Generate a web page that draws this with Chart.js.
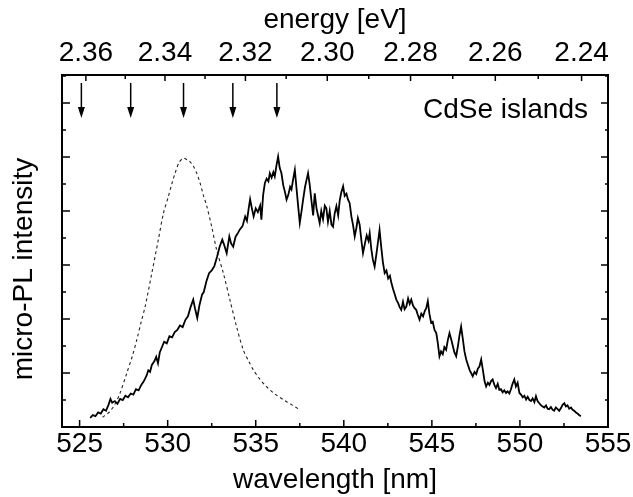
<!DOCTYPE html>
<html>
<head>
<meta charset="utf-8">
<script src="https://cdn.jsdelivr.net/npm/chart.js@4.4.1/dist/chart.umd.min.js"></script>
<style>
  html, body { margin: 0; padding: 0; background: #fff; }
  #wrap { width: 633px; height: 497px; }
</style>
</head>
<body>
<div id="wrap"><canvas id="plChart"></canvas></div>
<script>
// wavelength axis (nm) and energy axis (eV)
const xMin = 524, xMax = 555;
const wlTicks = [525, 527.5, 530, 532.5, 535, 537.5, 540, 542.5, 545, 547.5, 550, 552.5, 555];
const energyTicks = [2.36, 2.35, 2.34, 2.33, 2.32, 2.31, 2.30, 2.29, 2.28, 2.27, 2.26, 2.25, 2.24];
const yTicks = [0, 0.5, 1, 1.5, 2, 2.5, 3, 3.5, 4, 4.5, 5, 5.5, 6, 6.5];
const yMax = 6.52;

// arrows marking the peaks (nm)
const arrowWl = [525.1, 527.9, 530.9, 533.7, 536.2];

// micro-PL spectrum (solid)
const solidWl = [
  525.6, 525.75, 525.9, 526.05, 526.2, 526.35, 526.5, 526.65, 526.75, 526.85,
  527.0, 527.15, 527.3, 527.45, 527.6, 527.75, 527.9, 528.05, 528.2, 528.35,
  528.5, 528.65, 528.8, 528.9, 529.0, 529.1, 529.25, 529.35, 529.45, 529.55,
  529.7, 529.8, 529.95, 530.1, 530.25, 530.4, 530.55, 530.7, 530.85, 531.0,
  531.15, 531.3, 531.45, 531.55, 531.68, 531.8, 531.95, 532.05, 532.2, 532.35,
  532.5, 532.65, 532.8, 532.95, 533.1, 533.2, 533.35, 533.5, 533.6, 533.72,
  533.85, 534.0, 534.1, 534.25, 534.4, 534.5, 534.6, 534.68, 534.78, 534.88,
  535.0, 535.12, 535.25, 535.32, 535.42, 535.52, 535.62, 535.72, 535.8, 535.9,
  536.0, 536.08, 536.18, 536.27, 536.36, 536.46, 536.56, 536.66, 536.75, 536.85,
  536.95, 537.03, 537.12, 537.22, 537.32, 537.42, 537.5, 537.6, 537.69, 537.8,
  537.9, 537.97, 538.06, 538.16, 538.26, 538.35, 538.45, 538.55, 538.63, 538.72,
  538.82, 538.92, 539.01, 539.1, 539.2, 539.3, 539.39, 539.48, 539.58, 539.68,
  539.77, 539.86, 539.96, 540.05, 540.15, 540.24, 540.33, 540.43, 540.52, 540.62,
  540.72, 540.8, 540.9, 541.0, 541.09, 541.2, 541.3, 541.4, 541.47, 541.56,
  541.65, 541.75, 541.85, 541.95, 542.03, 542.12, 542.22, 542.32, 542.42, 542.52,
  542.62, 542.7, 542.8, 542.9, 542.98, 543.08, 543.17, 543.26, 543.36, 543.45,
  543.55, 543.65, 543.74, 543.83, 543.93, 544.02, 544.11, 544.2, 544.3, 544.4,
  544.5, 544.6, 544.68, 544.77, 544.86, 544.96, 545.05, 545.15, 545.25, 545.34,
  545.43, 545.52, 545.62, 545.71, 545.81, 545.9, 546.0, 546.1, 546.19, 546.28,
  546.38, 546.48, 546.57, 546.66, 546.75, 546.85, 546.95, 547.05, 547.15, 547.23,
  547.32, 547.42, 547.52, 547.61, 547.7, 547.8, 547.9, 547.99, 548.08, 548.18,
  548.27, 548.36, 548.45, 548.55, 548.64, 548.74, 548.83, 548.92, 549.02, 549.11,
  549.21, 549.3, 549.4, 549.49, 549.58, 549.68, 549.77, 549.87, 549.97, 550.06,
  550.16, 550.25, 550.35, 550.44, 550.54, 550.63, 550.72, 550.82, 550.91, 551.0,
  551.1, 551.2, 551.29, 551.38, 551.48, 551.57, 551.66, 551.76, 551.85, 551.94,
  552.04, 552.14, 552.23, 552.33, 552.42, 552.52, 552.61, 552.7, 552.8, 552.9,
  552.99, 553.08, 553.18, 553.27, 553.36, 553.46
];
const solidI = [
  0.17, 0.22, 0.20, 0.27, 0.25, 0.33, 0.30, 0.42, 0.52, 0.45,
  0.48, 0.43, 0.52, 0.50, 0.58, 0.55, 0.62, 0.60, 0.70, 0.68,
  0.78, 0.85, 0.95, 1.05, 1.02, 1.15, 1.22, 1.30, 1.18, 1.38,
  1.50, 1.58, 1.55, 1.68, 1.66, 1.76, 1.80, 1.88, 1.85, 1.98,
  2.05, 2.22, 2.36, 2.20, 2.02, 2.25, 2.45, 2.50, 2.70, 2.85,
  2.90, 2.98, 3.15, 3.34, 3.47, 3.38, 3.22, 3.53, 3.40, 3.34,
  3.52, 3.60, 3.66, 3.72, 3.90, 3.82, 4.05, 4.22, 4.05, 3.90,
  4.05, 3.98, 4.10, 3.84, 4.30, 4.52, 4.60, 4.55, 4.70, 4.62,
  4.72, 4.64, 4.85, 5.01, 4.80, 4.70, 4.48, 4.35, 4.21, 4.30,
  4.45, 4.40, 4.58, 4.76, 4.40, 4.05, 3.78, 4.00, 4.21, 4.45,
  4.60, 4.70, 4.50, 4.20, 3.92, 4.33, 4.05, 3.90, 3.78, 4.00,
  3.85, 4.10, 4.05, 3.80, 4.00, 3.75, 3.71, 3.95, 4.09, 3.92,
  4.20, 4.35, 4.46, 4.28, 4.32, 4.21, 4.15, 3.90, 3.75, 3.53,
  3.70, 3.87, 3.75, 3.45, 3.22, 3.40, 3.55, 3.45, 3.59, 3.30,
  3.10, 2.97, 3.20, 3.45, 3.65, 3.35, 3.05, 2.85, 2.90, 2.75,
  2.80, 2.67, 2.55, 2.45, 2.36, 2.30, 2.22, 2.17, 2.32, 2.18,
  2.23, 2.38, 2.28, 2.36, 2.25, 2.20, 2.17, 2.08, 1.99, 2.10,
  2.05, 2.15, 2.20, 2.33, 2.10, 1.93, 1.95, 1.80, 1.74, 1.55,
  1.31, 1.40, 1.35, 1.48, 1.43, 1.60, 1.74, 1.62, 1.50, 1.38,
  1.31, 1.50, 1.70, 1.86, 1.65, 1.40, 1.25, 1.15, 1.05, 1.00,
  0.94, 1.02, 0.98, 1.08, 1.12, 1.25, 1.05, 0.85, 0.75, 0.82,
  0.78, 0.85, 0.88, 0.78, 0.72, 0.80, 0.69, 0.70, 0.64, 0.68,
  0.63, 0.66, 0.62, 0.70, 0.80, 0.88, 0.75, 0.82, 0.63, 0.60,
  0.55, 0.58, 0.51, 0.56, 0.50, 0.48, 0.53, 0.46, 0.57, 0.48,
  0.44, 0.40, 0.38, 0.36, 0.40, 0.34, 0.33, 0.37, 0.32, 0.30,
  0.36, 0.33, 0.30, 0.35, 0.41, 0.44, 0.38, 0.40, 0.34, 0.36,
  0.32, 0.30, 0.27, 0.25, 0.22, 0.20
];

// reference spectrum (dotted)
const dashWl = [
  526.3, 526.7, 527.0, 527.3, 527.68, 528.0, 528.25, 528.5, 528.72, 529.1,
  529.47, 529.76, 530.04, 530.25, 530.42, 530.65, 530.9, 531.1, 531.25, 531.46,
  531.65, 531.84, 532.02, 532.22, 532.5, 532.78, 533.16, 533.53, 533.91, 534.29,
  534.6, 534.86, 535.2, 535.6, 536.05, 536.55, 537.0, 537.5
];
const dashI = [
  0.18, 0.28, 0.42, 0.63, 1.00, 1.32, 1.62, 1.95, 2.23, 2.85,
  3.47, 3.96, 4.27, 4.52, 4.70, 4.90, 4.98, 4.95, 4.92, 4.83,
  4.70, 4.52, 4.30, 4.09, 3.71, 3.28, 2.85, 2.36, 1.86, 1.43,
  1.22, 1.06, 0.90, 0.75, 0.62, 0.51, 0.42, 0.32
];

const hc = 1239.84; // eV*nm
const font = { family: 'Liberation Sans, Arial, sans-serif', size: 28 };

// frame, inward ticks, arrows and labels
const framePlugin = {
    id: 'frame',
    afterDraw(chart) {
        const { ctx, chartArea: a, scales } = chart;
        ctx.save();
        ctx.strokeStyle = '#000';
        ctx.lineWidth = 1.5;
        ctx.beginPath();
        scales.x.ticks.forEach(t => {
            const px = scales.x.getPixelForValue(t.value);
            const len = t.value % 5 === 0 ? 7 : 4;
            ctx.moveTo(px, a.bottom); ctx.lineTo(px, a.bottom - len);
        });
        scales.xTop.ticks.forEach((t, i) => {
            const px = scales.xTop.getPixelForValue(t.value);
            const len = i % 2 === 0 ? 6 : 4;
            ctx.moveTo(px, a.top); ctx.lineTo(px, a.top + len);
        });
        scales.y.ticks.forEach(t => {
            const py = scales.y.getPixelForValue(t.value);
            const len = t.value % 1 === 0 ? 8 : 4;
            ctx.moveTo(a.left, py); ctx.lineTo(a.left + len, py);
            ctx.moveTo(a.right, py); ctx.lineTo(a.right - len + 1, py);
        });
        ctx.stroke();

        ctx.lineWidth = 2;
        ctx.strokeRect(a.left, a.top, a.right - a.left, a.bottom - a.top);

        // arrows
        ctx.lineWidth = 1.5;
        ctx.fillStyle = '#000';
        arrowWl.forEach(w => {
            const px = scales.x.getPixelForValue(w);
            const y0 = a.top + 8, y1 = a.top + 43;
            ctx.beginPath();
            ctx.moveTo(px, y0); ctx.lineTo(px, y1 - 8);
            ctx.stroke();
            ctx.beginPath();
            ctx.moveTo(px - 3.5, y1 - 11);
            ctx.lineTo(px + 3.5, y1 - 11);
            ctx.lineTo(px, y1);
            ctx.closePath();
            ctx.fill();
        });

        ctx.font = `${font.size}px ${font.family}`;
        ctx.textAlign = 'right';
        ctx.textBaseline = 'middle';
        ctx.fillText('CdSe islands', a.right - 20, a.top + 35);

        ctx.save();
        ctx.translate(24, 269);
        ctx.rotate(-Math.PI / 2);
        ctx.textAlign = 'center';
        ctx.fillText('micro-PL intensity', 0, 0);
        ctx.restore();
        ctx.restore();
    }
};

document.addEventListener('DOMContentLoaded', () => {
    const ctx = document.getElementById('plChart').getContext('2d');
    const plChart = new Chart(ctx, {
        type: 'line',
        data: {
            datasets: [{
                label: 'micro-PL',
                data: solidWl.map((w, i) => ({ x: w, y: solidI[i] })),
                borderColor: '#000',
                borderWidth: 1.8,
                pointRadius: 0,
                tension: 0
            }, {
                label: 'reference',
                data: dashWl.map((w, i) => ({ x: w, y: dashI[i] })),
                borderColor: '#222',
                borderWidth: 1.1,
                borderDash: [3, 3],
                pointRadius: 0,
                tension: 0.3
            }]
        },
        options: {
            responsive: true,
            maintainAspectRatio: false,
            animation: false,
            layout: { padding: { left: 0, right: 25, top: 0, bottom: 0 } },
            plugins: { legend: { display: false }, tooltip: { enabled: false } },
            scales: {
                x: {
                    type: 'linear',
                    position: 'bottom',
                    min: xMin,
                    max: xMax,
                    grid: { display: false, drawTicks: false },
                    border: { display: false },
                    afterBuildTicks: s => { s.ticks = wlTicks.map(v => ({ value: v })); },
                    afterFit: s => { s.height = 70; },
                    ticks: {
                        autoSkip: false,
                        maxRotation: 0,
                        padding: 0,
                        color: '#000',
                        font: font,
                        callback: v => (v % 5 === 0 ? String(v) : '')
                    },
                    title: {
                        display: true,
                        text: 'wavelength [nm]',
                        color: '#000',
                        font: font,
                        padding: { top: 8, bottom: 0 }
                    }
                },
                xTop: {
                    type: 'linear',
                    position: 'top',
                    min: xMin,
                    max: xMax,
                    grid: { display: false, drawTicks: false },
                    border: { display: false },
                    afterBuildTicks: s => { s.ticks = energyTicks.map(e => ({ value: hc / e })); },
                    afterFit: s => { s.height = 75; },
                    ticks: {
                        autoSkip: false,
                        maxRotation: 0,
                        padding: 5,
                        color: '#000',
                        font: font,
                        callback: (v, i) => (i % 2 === 0 ? energyTicks[i].toFixed(2) : '')
                    },
                    title: {
                        display: true,
                        text: 'energy [eV]',
                        color: '#000',
                        font: font,
                        padding: { top: 3, bottom: 0 }
                    }
                },
                y: {
                    type: 'linear',
                    min: 0,
                    max: yMax,
                    grid: { display: false },
                    border: { display: false },
                    afterBuildTicks: s => { s.ticks = yTicks.map(v => ({ value: v })); },
                    afterFit: s => { s.width = 62; },
                    ticks: { display: false }
                }
            }
        },
        plugins: [framePlugin]
    });
});
</script>
</body>
</html>
